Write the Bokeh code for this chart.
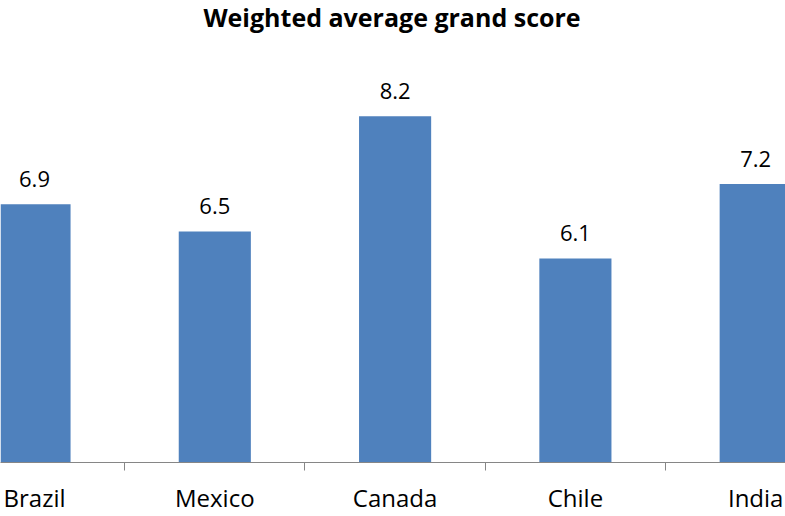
from bokeh.plotting import figure
from bokeh.models import Range1d, FixedTicker, ColumnDataSource, Label
from bokeh.core.properties import value
from bokeh.embed import file_html
from bokeh.resources import INLINE

# Chart data
countries = ["Brazil", "Mexico", "Canada", "Chile", "India"]
scores = [6.9, 6.5, 8.2, 6.1, 7.2]
chart_title = "Weighted average grand score"

FONT = "Open Sans"
BAR_COLOR = "#4F81BD"
AXIS_COLOR = "#868686"
FRAME_H = 463  # plot area height in pixels (516 minus the category axis)

positions = list(range(len(countries)))
src = ColumnDataSource(dict(
    x=positions,
    score=scores,
    label=[f"{v:.1f}" for v in scores],
))

p = figure(
    width=785, height=516,
    output_backend="svg", toolbar_location=None,
    x_range=Range1d(-0.1886, 4.1653),
    y_range=Range1d(3.087, 9.91),
    min_border=0, min_border_bottom=516 - FRAME_H,
    y_axis_location=None,
)
p.outline_line_color = None
p.xgrid.visible = False
p.ygrid.visible = False

p.vbar(x="x", top="score", bottom=0, width=0.4, source=src,
       fill_color=BAR_COLOR, line_color=None)

p.text(x="x", y="score", text="label", source=src,
       text_align="center", text_baseline="alphabetic", y_offset=-25,
       text_font=value(FONT), text_font_size="22px", text_color="#000000")

ax = p.xaxis[0]
ax.ticker = FixedTicker(ticks=positions,
                        minor_ticks=[i + 0.5 for i in positions[:-1]])
ax.major_label_overrides = {i: c for i, c in enumerate(countries)}
ax.axis_line_color = AXIS_COLOR
ax.major_tick_line_color = None
ax.major_tick_in = 0
ax.major_tick_out = 0
ax.minor_tick_line_color = AXIS_COLOR
ax.minor_tick_in = 0
ax.minor_tick_out = 8
ax.major_label_standoff = 10
ax.major_label_text_font = FONT
ax.major_label_text_font_size = "24px"
ax.major_label_text_color = "#000000"

p.add_layout(Label(
    x=391.5, y=FRAME_H - 17, x_units="screen", y_units="screen",
    text=chart_title, text_align="center", text_baseline="alphabetic",
    text_font=FONT, text_font_style="bold", text_font_size="25px",
    text_color="#000000",
))

open("out.html", "w").write(file_html(p, INLINE))
